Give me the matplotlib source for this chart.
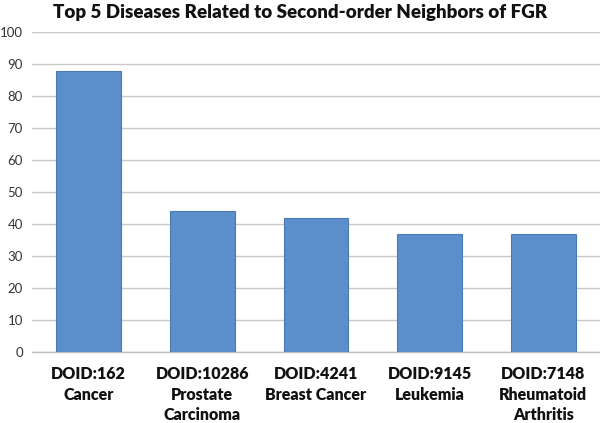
import matplotlib
matplotlib.use("Agg")
import matplotlib.pyplot as plt

categories = ["DOID:162\nCancer", "DOID:10286\nProstate\nCarcinoma", "DOID:4241\nBreast Cancer",
              "DOID:9145\nLeukemia", "DOID:7148\nRheumatoid\nArthritis"]
values = [88, 44, 42, 37, 37]
yticks = list(range(0, 101, 10))
title = "Top 5 Diseases Related to Second-order Neighbors of FGR"

plt.rcParams['font.family'] = ['Lato', 'DejaVu Sans']

fig = plt.figure(figsize=(6, 4.23), dpi=100)
ax = fig.add_axes([0.053, 0.168, 0.947, 0.756])

x = list(range(len(categories)))
ax.bar(x, values, width=0.57, color="#5B8FCB", edgecolor="#4A7AB5", linewidth=0.8, zorder=3)

ax.set_xlim(-0.5, len(categories) - 0.5)
ax.set_ylim(0, 100)
ax.set_yticks(yticks)
ax.yaxis.grid(True, color="#C8C8C8", linewidth=1.0, zorder=0)
ax.set_axisbelow(True)
for s in ["top", "right", "left"]:
    ax.spines[s].set_visible(False)
ax.spines["bottom"].set_color("#BFBFBF")
ax.spines["bottom"].set_linewidth(1.0)

ax.set_xticks(x)
ax.set_xticklabels(categories, fontsize=11.5, fontweight="heavy", color="#111111", linespacing=1.36)
ax.tick_params(axis="x", length=0, pad=10)
ax.tick_params(axis="y", length=0, labelsize=9.5, colors="#333333", pad=6.5)

fig.text(0.5, 0.97, title, ha="center", va="center", fontsize=13.5, fontweight="heavy", color="#111111")

fig.savefig("out.png", dpi=100)
